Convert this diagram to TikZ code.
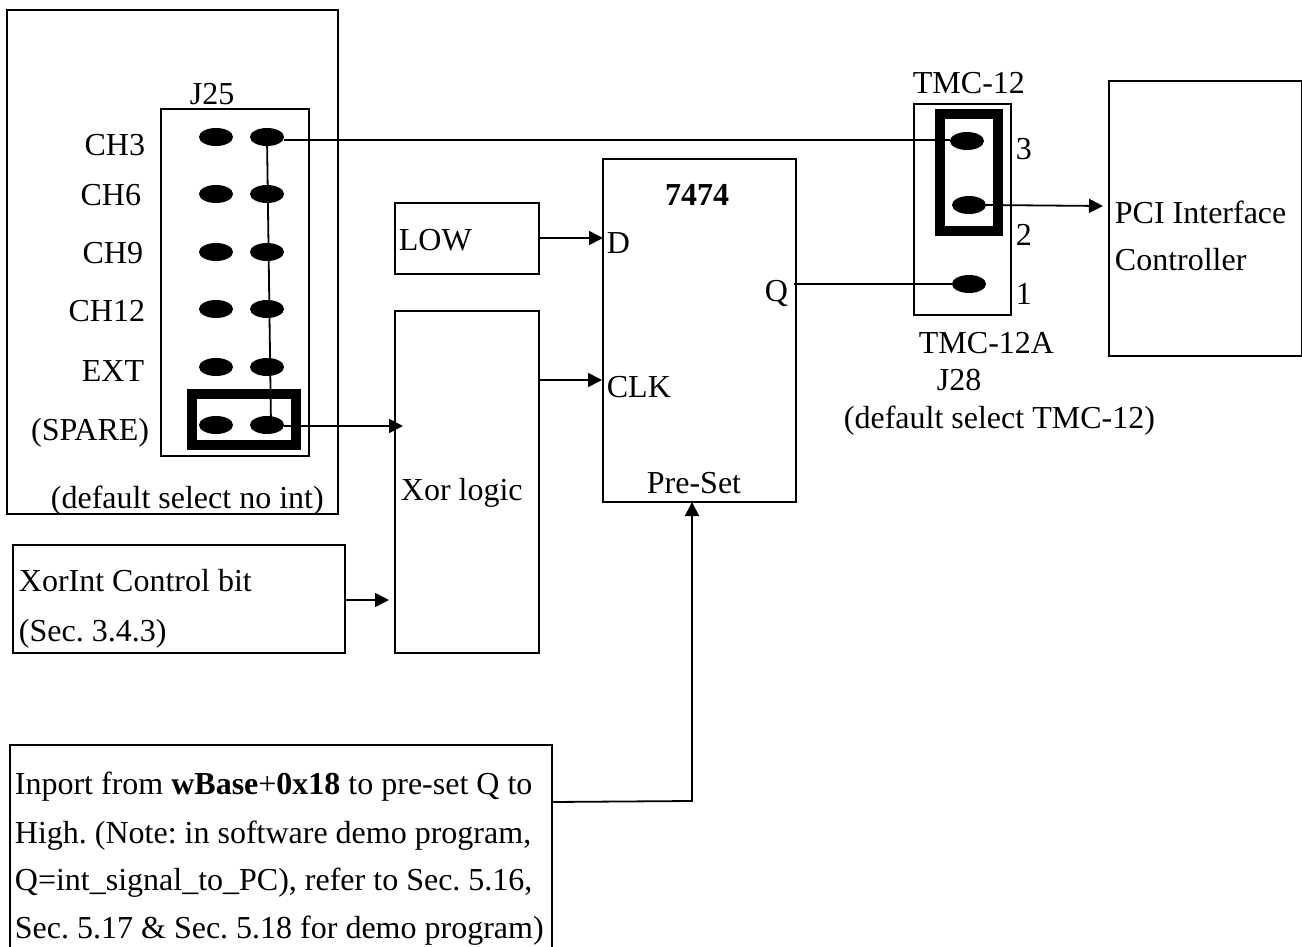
\documentclass[tikz,border=0pt]{standalone}
\usepackage{fontspec}
\setmainfont{Liberation Serif}
\usetikzlibrary{arrows.meta, positioning, shapes.geometric}
\tikzset{>={Triangle[length=14pt,width=14pt]}}
\newcommand{\lblfont}{\fontsize{32}{32}\selectfont\frenchspacing}
\tikzset{
  boxnode/.style={draw, line width=1.8pt, inner sep=0pt, outer sep=0pt},
  pinnode/.style={ellipse, fill=black, minimum width=34pt, minimum height=18pt, inner sep=0pt, outer sep=0pt},
  jumpernode/.style={draw, line width=10pt, inner sep=0pt, outer sep=0pt},
  lbl/.style={font=\lblfont, inner sep=0pt, anchor=base west, yshift=-1pt},
  lblr/.style={font=\lblfont, inner sep=0pt, anchor=base east, yshift=-1pt},
  lblc/.style={font=\lblfont, inner sep=0pt, anchor=base, yshift=-1pt}
}

\begin{document}
\begin{tikzpicture}[x=1pt, y=-1pt, line width=1.8pt]
\useasboundingbox (0,0) rectangle (1302,947);

% jumper J25
\node[boxnode, minimum width=331pt, minimum height=504pt] (Outer) at (172.5,262) {};
\node[boxnode, minimum width=148pt, minimum height=347pt] (Jfive) at (235,282.5) {};
\node[jumpernode, minimum width=104pt, minimum height=51pt] (JumpA) at (244,419.5) {};
\foreach \n/\y in {a/137, b/194, c/252, d/309, e/367, f/425} {
  \node[pinnode] (L\n) at (216,\y) {};
  \node[pinnode] (R\n) at (267,\y) {};
}
\node[lbl] (Jtitle) at (189,104) {J25};
\node[lblr] (CHa) at (146,155) {CH3};
\node[lblr] (CHb) at (142,205) {CH6};
\node[lblr] (CHc) at (144,262) {CH9};
\node[lblr] (CHd) at (146,320) {CH12};
\node[lblr] (CHe) at (145,380) {EXT};
\node[lblr] (CHf) at (150,439) {(SPARE)};
\node[lbl] (Jnote) at (50,507) {(default select no int)};
\coordinate (Wend) at (271,425);
\draw (Ra.center)--(Wend);

% middle blocks
\node[boxnode, minimum width=144pt, minimum height=71pt] (Low) at (467,238.5) {};
\node[lbl] (LowT) at (398,249) {LOW};
\node[boxnode, minimum width=144pt, minimum height=342pt] (Xor) at (467,482) {};
\node[lbl] (XorT) at (400,499) {Xor logic};
\node[boxnode, minimum width=193pt, minimum height=343pt] (FF) at (699.5,330.5) {};
\node[lblc] (FFT) at (697,204) {\textbf{7474}};
\node[lbl] (FFD) at (606,252) {D};
\node[lbl] (FFC) at (606,396) {CLK};
\node[lblr] (FFQ) at (789,300) {Q};
\node[lblc] (FFP) at (694,492) {Pre-Set};
\node[boxnode, minimum width=332pt, minimum height=108pt] (Ctl) at (179,599) {};
\node[lbl] (CtlA) at (18,590) {XorInt Control bit};
\node[lbl] (CtlB) at (18,640) {(Sec. 3.4.3)};
\node[boxnode, minimum width=542pt, minimum height=210pt] (Inp) at (281,850) {};
\node[lbl] (InpA) at (14,793) {Inport from \textbf{wBase}+\textbf{0x18} to pre-set Q to};
\node[lbl] (InpB) at (14,842) {High. (Note: in software demo program,};
\node[lbl] (InpC) at (14,889) {Q=int\_signal\_to\_PC), refer to Sec. 5.16,};
\node[lbl] (InpD) at (14,937) {Sec. 5.17 \& Sec. 5.18 for demo program)};

% jumper J28
\node[boxnode, minimum width=97pt, minimum height=211pt] (Jeight) at (962.5,209.5) {};
\node[jumpernode, minimum width=58pt, minimum height=117pt] (JumpB) at (969,172.5) {};
\node[pinnode] (Pc) at (967,141) {};
\node[pinnode] (Pb) at (969,205) {};
\node[pinnode] (Pa) at (969,284) {};
\node[lbl] (Nc) at (1015,159) {3};
\node[lbl] (Nb) at (1015,244) {2};
\node[lbl] (Na) at (1015,303) {1};
\node[lbl] (Ttop) at (912,93) {TMC-12};
\node[lbl] (Tbot) at (918,352) {TMC-12A};
\node[lbl] (Tname) at (936,389) {J28};
\node[lbl] (Tnote) at (843,427) {(default select TMC-12)};
\node[boxnode, minimum width=193pt, minimum height=275pt] (Pci) at (1205.5,218.5) {};
\node[lbl] (PciA) at (1114,222) {PCI Interface};
\node[lbl] (PciB) at (1114,269) {Controller};

% wires
\coordinate (Dpin) at (603,238);
\coordinate (Cpin) at (602,380);
\coordinate (Xin) at (403,426);
\coordinate (Xctl) at (389,600);
\coordinate (Qout) at (794,284);
\coordinate (Bend) at (692,801);
\coordinate (Inpout) at (552,802);
\coordinate (Pciin) at (1103,206);
\draw (Ra.east |- 0,140)--(Pc.west |- 0,140);
\draw[->] (Rf.east |- Xin)--(Xin);
\draw[->] (Low.east |- Dpin)--(Dpin);
\draw[->] (Xor.east |- Cpin)--(Cpin);
\draw[->] (Ctl.east |- Xctl)--(Xctl);
\draw (Qout)--(Pa.west);
\draw[->] (Pb.east)--(Pciin);
\draw[->] (Inpout)--(Bend)--(FF.south -| Bend);
\end{tikzpicture}
\end{document}
